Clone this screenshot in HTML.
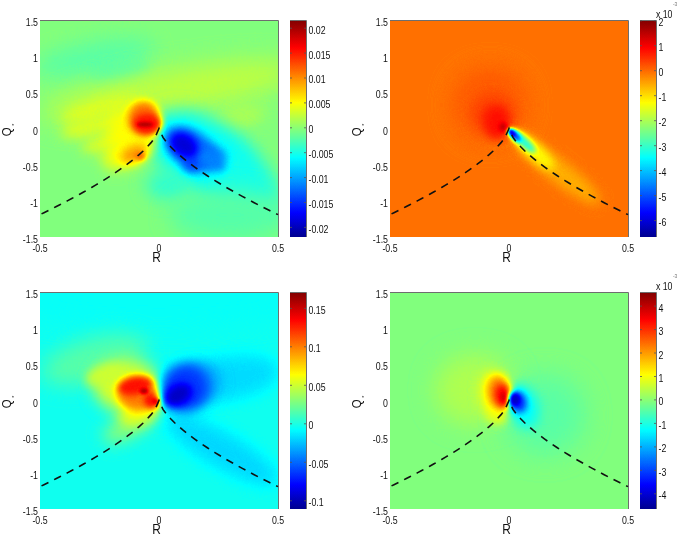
<!DOCTYPE html><html><head><meta charset="utf-8"><style>html,body{margin:0;padding:0;background:#fff;}body{width:679px;height:536px;overflow:hidden;font-family:"Liberation Sans",sans-serif;}svg{display:block;filter:blur(0.45px);}</style></head><body><svg width="679" height="536" viewBox="0 0 679 536"><defs>
<clipPath id="clip"><rect x="0" y="0" width="238" height="217"/></clipPath>
<filter id="jet" color-interpolation-filters="sRGB" x="0" y="0" width="1" height="1"><feComponentTransfer><feFuncR type="table" tableValues="0.0000 0.0000 0.0000 0.0000 0.0000 0.0000 0.0000 0.0000 0.0000 0.0000 0.0000 0.0000 0.0000 0.0000 0.0000 0.0000 0.0000 0.0000 0.0000 0.0000 0.0000 0.0000 0.0000 0.0000 0.0625 0.1250 0.1875 0.2500 0.3125 0.3750 0.4375 0.5000 0.5625 0.6250 0.6875 0.7500 0.8125 0.8750 0.9375 1.0000 1.0000 1.0000 1.0000 1.0000 1.0000 1.0000 1.0000 1.0000 1.0000 1.0000 1.0000 1.0000 1.0000 1.0000 1.0000 1.0000 0.9375 0.8750 0.8125 0.7500 0.6875 0.6250 0.5625 0.5000"/><feFuncG type="table" tableValues="0.0000 0.0000 0.0000 0.0000 0.0000 0.0000 0.0000 0.0000 0.0625 0.1250 0.1875 0.2500 0.3125 0.3750 0.4375 0.5000 0.5625 0.6250 0.6875 0.7500 0.8125 0.8750 0.9375 1.0000 1.0000 1.0000 1.0000 1.0000 1.0000 1.0000 1.0000 1.0000 1.0000 1.0000 1.0000 1.0000 1.0000 1.0000 1.0000 1.0000 0.9375 0.8750 0.8125 0.7500 0.6875 0.6250 0.5625 0.5000 0.4375 0.3750 0.3125 0.2500 0.1875 0.1250 0.0625 0.0000 0.0000 0.0000 0.0000 0.0000 0.0000 0.0000 0.0000 0.0000"/><feFuncB type="table" tableValues="0.5625 0.6250 0.6875 0.7500 0.8125 0.8750 0.9375 1.0000 1.0000 1.0000 1.0000 1.0000 1.0000 1.0000 1.0000 1.0000 1.0000 1.0000 1.0000 1.0000 1.0000 1.0000 1.0000 1.0000 0.9375 0.8750 0.8125 0.7500 0.6875 0.6250 0.5625 0.5000 0.4375 0.3750 0.3125 0.2500 0.1875 0.1250 0.0625 0.0000 0.0000 0.0000 0.0000 0.0000 0.0000 0.0000 0.0000 0.0000 0.0000 0.0000 0.0000 0.0000 0.0000 0.0000 0.0000 0.0000 0.0000 0.0000 0.0000 0.0000 0.0000 0.0000 0.0000 0.0000"/></feComponentTransfer></filter>
<linearGradient id="cbg" x1="0" y1="0" x2="0" y2="1"><stop offset="0" stop-color="#fff"/><stop offset="1" stop-color="#000"/></linearGradient>
<filter id="b15" color-interpolation-filters="sRGB" x="-100%" y="-100%" width="300%" height="300%"><feGaussianBlur stdDeviation="1.5"/></filter>
<filter id="b20" color-interpolation-filters="sRGB" x="-100%" y="-100%" width="300%" height="300%"><feGaussianBlur stdDeviation="2"/></filter>
<filter id="b25" color-interpolation-filters="sRGB" x="-100%" y="-100%" width="300%" height="300%"><feGaussianBlur stdDeviation="2.5"/></filter>
<filter id="b30" color-interpolation-filters="sRGB" x="-100%" y="-100%" width="300%" height="300%"><feGaussianBlur stdDeviation="3"/></filter>
<filter id="b35" color-interpolation-filters="sRGB" x="-100%" y="-100%" width="300%" height="300%"><feGaussianBlur stdDeviation="3.5"/></filter>
<filter id="b40" color-interpolation-filters="sRGB" x="-100%" y="-100%" width="300%" height="300%"><feGaussianBlur stdDeviation="4"/></filter>
<filter id="b50" color-interpolation-filters="sRGB" x="-100%" y="-100%" width="300%" height="300%"><feGaussianBlur stdDeviation="5"/></filter>
<filter id="b60" color-interpolation-filters="sRGB" x="-100%" y="-100%" width="300%" height="300%"><feGaussianBlur stdDeviation="6"/></filter>
<filter id="b70" color-interpolation-filters="sRGB" x="-100%" y="-100%" width="300%" height="300%"><feGaussianBlur stdDeviation="7"/></filter>
<filter id="b80" color-interpolation-filters="sRGB" x="-100%" y="-100%" width="300%" height="300%"><feGaussianBlur stdDeviation="8"/></filter>
<filter id="b90" color-interpolation-filters="sRGB" x="-100%" y="-100%" width="300%" height="300%"><feGaussianBlur stdDeviation="9"/></filter>
<filter id="b100" color-interpolation-filters="sRGB" x="-100%" y="-100%" width="300%" height="300%"><feGaussianBlur stdDeviation="10"/></filter>
<filter id="b120" color-interpolation-filters="sRGB" x="-100%" y="-100%" width="300%" height="300%"><feGaussianBlur stdDeviation="12"/></filter>
</defs>
<g transform="translate(40 20)" clip-path="url(#clip)">
<g filter="url(#jet)">
<rect x="0" y="0" width="238" height="217" fill="#7e7e7e"/>
<ellipse cx="55" cy="38" rx="60" ry="15" transform="rotate(-10 55 38)" fill="#737373" filter="url(#b100)"/>
<ellipse cx="80" cy="52" rx="30" ry="8" transform="rotate(-10 80 52)" fill="#707070" filter="url(#b60)"/>
<ellipse cx="130" cy="72" rx="130" ry="22" transform="rotate(-10 130 72)" fill="#8e8e8e" filter="url(#b120)"/>
<ellipse cx="192" cy="100" rx="35" ry="10" transform="rotate(-15 192 100)" fill="#8b8b8b" filter="url(#b80)"/>
<ellipse cx="165" cy="135" rx="62" ry="36" transform="rotate(30 165 135)" fill="#5e5e5e" filter="url(#b90)"/>
<ellipse cx="128" cy="165" rx="22" ry="15" transform="rotate(0 128 165)" fill="#6a6a6a" filter="url(#b80)"/>
<ellipse cx="205" cy="162" rx="40" ry="22" transform="rotate(30 205 162)" fill="#636363" filter="url(#b100)"/>
<ellipse cx="190" cy="195" rx="60" ry="25" transform="rotate(0 190 195)" fill="#737373" filter="url(#b100)"/>
<ellipse cx="60" cy="88" rx="40" ry="8" transform="rotate(-15 60 88)" fill="#969696" filter="url(#b60)"/>
<ellipse cx="55" cy="105" rx="35" ry="10" transform="rotate(-15 55 105)" fill="#959595" filter="url(#b60)"/>
<ellipse cx="70" cy="120" rx="30" ry="8" transform="rotate(-20 70 120)" fill="#969696" filter="url(#b60)"/>
<ellipse cx="88" cy="130" rx="28" ry="16" transform="rotate(-30 88 130)" fill="#9e9e9e" filter="url(#b70)"/>
<ellipse cx="92" cy="110" rx="24" ry="22" transform="rotate(0 92 110)" fill="#9e9e9e" filter="url(#b70)"/>
<ellipse cx="175" cy="133" rx="14" ry="7" transform="rotate(25 175 133)" fill="#454545" filter="url(#b40)"/>
<ellipse cx="104" cy="98" rx="16" ry="17" transform="rotate(0 104 98)" fill="#c4c4c4" filter="url(#b40)"/>
<ellipse cx="107" cy="104" rx="14" ry="10" transform="rotate(0 107 104)" fill="#dbdbdb" filter="url(#b30)"/>
<ellipse cx="105" cy="104.5" rx="8" ry="2.5" transform="rotate(0 105 104.5)" fill="#f2f2f2" filter="url(#b15)"/>
<ellipse cx="94" cy="134" rx="14" ry="8" transform="rotate(-25 94 134)" fill="#b8b8b8" filter="url(#b40)"/>
<ellipse cx="100" cy="136" rx="5" ry="4" transform="rotate(0 100 136)" fill="#c4c4c4" filter="url(#b20)"/>
<ellipse cx="151" cy="129" rx="30" ry="18" transform="rotate(35 151 129)" fill="#363636" filter="url(#b50)"/>
<ellipse cx="152" cy="144" rx="9" ry="8" transform="rotate(0 152 144)" fill="#2e2e2e" filter="url(#b40)"/>
<ellipse cx="172" cy="140" rx="16" ry="9" transform="rotate(35 172 140)" fill="#3d3d3d" filter="url(#b40)"/>
<ellipse cx="144" cy="125" rx="15" ry="11" transform="rotate(35 144 125)" fill="#121212" filter="url(#b40)"/>
</g></g>
<path d="M40 20.5H278.5V237" stroke="#6e6e6e" stroke-width="1" fill="none"/>
<path d="M40.00 214.62 L43.97 212.69 L47.93 210.75 L51.90 208.78 L55.87 206.78 L59.83 204.76 L63.80 202.71 L67.77 200.64 L71.73 198.53 L75.70 196.39 L79.67 194.22 L83.63 192.01 L87.60 189.76 L91.57 187.47 L95.53 185.14 L99.50 182.75 L103.47 180.31 L107.43 177.81 L111.40 175.25 L115.37 172.62 L119.33 169.90 L123.30 167.09 L127.27 164.18 L131.23 161.14 L135.20 157.95 L139.17 154.58 L143.13 150.98 L147.10 147.05 L151.07 142.66 L155.03 137.42 L159.00 128.50 L162.97 137.42 L166.93 142.66 L170.90 147.05 L174.87 150.98 L178.83 154.58 L182.80 157.95 L186.77 161.14 L190.73 164.18 L194.70 167.09 L198.67 169.90 L202.63 172.62 L206.60 175.25 L210.57 177.81 L214.53 180.31 L218.50 182.75 L222.47 185.14 L226.43 187.47 L230.40 189.76 L234.37 192.01 L238.33 194.22 L242.30 196.39 L246.27 198.53 L250.23 200.64 L254.20 202.71 L258.17 204.76 L262.13 206.78 L266.10 208.78 L270.07 210.75 L274.03 212.69 L278.00 214.62" stroke="#111" stroke-width="1.6" fill="none" stroke-dasharray="7.7 6.35" stroke-dashoffset="-1.7"/>
<rect x="290" y="20" width="16" height="217" fill="url(#cbg)" filter="url(#jet)"/>
<path d="M290 20.5H306.5V237" stroke="#6e6e6e" stroke-width="1" fill="none"/>
<g font-family="Liberation Sans, sans-serif" font-size="10" fill="#111">
<text transform="translate(38.00 26.08) scale(0.880 1)" text-anchor="end">1.5</text>
<text transform="translate(38.00 62.25) scale(0.880 1)" text-anchor="end">1</text>
<text transform="translate(38.00 98.41) scale(0.880 1)" text-anchor="end">0.5</text>
<text transform="translate(38.00 134.58) scale(0.880 1)" text-anchor="end">0</text>
<text transform="translate(38.00 170.75) scale(0.880 1)" text-anchor="end">-0.5</text>
<text transform="translate(38.00 206.91) scale(0.880 1)" text-anchor="end">-1</text>
<text transform="translate(38.00 243.08) scale(0.880 1)" text-anchor="end">-1.5</text>
<text transform="translate(40.00 251.78) scale(0.880 1)" text-anchor="middle">-0.5</text>
<text transform="translate(159.00 251.78) scale(0.880 1)" text-anchor="middle">0</text>
<text transform="translate(278.00 251.78) scale(0.880 1)" text-anchor="middle">0.5</text>
<text transform="translate(308.45 33.63) scale(0.880 1)">0.02</text>
<path d="M290 28.2h2M306 28.2h-2" stroke="#555" stroke-width="0.8"/>
<text transform="translate(308.45 58.54) scale(0.880 1)">0.015</text>
<path d="M290 53.1h2M306 53.1h-2" stroke="#555" stroke-width="0.8"/>
<text transform="translate(308.45 83.45) scale(0.880 1)">0.01</text>
<path d="M290 78.0h2M306 78.0h-2" stroke="#555" stroke-width="0.8"/>
<text transform="translate(308.45 108.36) scale(0.880 1)">0.005</text>
<path d="M290 102.9h2M306 102.9h-2" stroke="#555" stroke-width="0.8"/>
<text transform="translate(308.45 133.27) scale(0.880 1)">0</text>
<path d="M290 127.8h2M306 127.8h-2" stroke="#555" stroke-width="0.8"/>
<text transform="translate(308.45 158.18) scale(0.880 1)">-0.005</text>
<path d="M290 152.7h2M306 152.7h-2" stroke="#555" stroke-width="0.8"/>
<text transform="translate(308.45 183.09) scale(0.880 1)">-0.01</text>
<path d="M290 177.6h2M306 177.6h-2" stroke="#555" stroke-width="0.8"/>
<text transform="translate(308.45 208.00) scale(0.880 1)">-0.015</text>
<path d="M290 202.5h2M306 202.5h-2" stroke="#555" stroke-width="0.8"/>
<text transform="translate(308.45 232.91) scale(0.880 1)">-0.02</text>
<path d="M290 227.4h2M306 227.4h-2" stroke="#555" stroke-width="0.8"/>
<text transform="translate(156.50 262.00) scale(0.82 1)" font-size="14.5" text-anchor="middle">R</text>
<text transform="translate(11.00 136.30) rotate(-90) scale(0.88 1)" font-size="13">Q<tspan font-size="6" dx="2" dy="4.6">*</tspan></text>
</g>
<g transform="translate(390 20)" clip-path="url(#clip)">
<g filter="url(#jet)">
<rect x="0" y="0" width="238" height="217" fill="#c2c2c2"/>
<ellipse cx="100" cy="85" rx="35" ry="35" transform="rotate(0 100 85)" fill="#c9c9c9" filter="url(#b120)"/>
<ellipse cx="104" cy="96" rx="18" ry="17" transform="rotate(0 104 96)" fill="#d4d4d4" filter="url(#b80)"/>
<ellipse cx="107" cy="103" rx="12" ry="16" transform="rotate(0 107 103)" fill="#dbdbdb" filter="url(#b50)"/>
<ellipse cx="113" cy="107" rx="4" ry="4.5" transform="rotate(0 113 107)" fill="#ededed" filter="url(#b20)"/>
<ellipse cx="170" cy="152" rx="50" ry="11" transform="rotate(38 170 152)" fill="#b2b2b2" filter="url(#b60)"/>
<ellipse cx="143" cy="130" rx="28" ry="8" transform="rotate(42 143 130)" fill="#9e9e9e" filter="url(#b40)"/>
<ellipse cx="134" cy="122" rx="15" ry="4.5" transform="rotate(43 134 122)" fill="#666666" filter="url(#b25)"/>
<ellipse cx="125" cy="115.5" rx="8" ry="3.5" transform="rotate(48 125 115.5)" fill="#292929" filter="url(#b20)"/>
<ellipse cx="122" cy="113" rx="4.5" ry="2.5" transform="rotate(50 122 113)" fill="#121212" filter="url(#b15)"/>
</g></g>
<path d="M390 20.5H628.5V237" stroke="#6e6e6e" stroke-width="1" fill="none"/>
<path d="M390.00 214.62 L393.97 212.69 L397.93 210.75 L401.90 208.78 L405.87 206.78 L409.83 204.76 L413.80 202.71 L417.77 200.64 L421.73 198.53 L425.70 196.39 L429.67 194.22 L433.63 192.01 L437.60 189.76 L441.57 187.47 L445.53 185.14 L449.50 182.75 L453.47 180.31 L457.43 177.81 L461.40 175.25 L465.37 172.62 L469.33 169.90 L473.30 167.09 L477.27 164.18 L481.23 161.14 L485.20 157.95 L489.17 154.58 L493.13 150.98 L497.10 147.05 L501.07 142.66 L505.03 137.42 L509.00 128.50 L512.97 137.42 L516.93 142.66 L520.90 147.05 L524.87 150.98 L528.83 154.58 L532.80 157.95 L536.77 161.14 L540.73 164.18 L544.70 167.09 L548.67 169.90 L552.63 172.62 L556.60 175.25 L560.57 177.81 L564.53 180.31 L568.50 182.75 L572.47 185.14 L576.43 187.47 L580.40 189.76 L584.37 192.01 L588.33 194.22 L592.30 196.39 L596.27 198.53 L600.23 200.64 L604.20 202.71 L608.17 204.76 L612.13 206.78 L616.10 208.78 L620.07 210.75 L624.03 212.69 L628.00 214.62" stroke="#111" stroke-width="1.6" fill="none" stroke-dasharray="7.7 6.35" stroke-dashoffset="-1.7"/>
<rect x="640" y="20" width="16" height="217" fill="url(#cbg)" filter="url(#jet)"/>
<path d="M640 20.5H656.5V237" stroke="#6e6e6e" stroke-width="1" fill="none"/>
<g font-family="Liberation Sans, sans-serif" font-size="10" fill="#111">
<text transform="translate(388.00 26.08) scale(0.880 1)" text-anchor="end">1.5</text>
<text transform="translate(388.00 62.25) scale(0.880 1)" text-anchor="end">1</text>
<text transform="translate(388.00 98.41) scale(0.880 1)" text-anchor="end">0.5</text>
<text transform="translate(388.00 134.58) scale(0.880 1)" text-anchor="end">0</text>
<text transform="translate(388.00 170.75) scale(0.880 1)" text-anchor="end">-0.5</text>
<text transform="translate(388.00 206.91) scale(0.880 1)" text-anchor="end">-1</text>
<text transform="translate(388.00 243.08) scale(0.880 1)" text-anchor="end">-1.5</text>
<text transform="translate(390.00 251.78) scale(0.880 1)" text-anchor="middle">-0.5</text>
<text transform="translate(509.00 251.78) scale(0.880 1)" text-anchor="middle">0</text>
<text transform="translate(628.00 251.78) scale(0.880 1)" text-anchor="middle">0.5</text>
<text transform="translate(658.45 26.23) scale(0.880 1)">2</text>
<path d="M640 20.8h2M656 20.8h-2" stroke="#555" stroke-width="0.8"/>
<text transform="translate(658.45 51.21) scale(0.880 1)">1</text>
<path d="M640 45.7h2M656 45.7h-2" stroke="#555" stroke-width="0.8"/>
<text transform="translate(658.45 76.19) scale(0.880 1)">0</text>
<path d="M640 70.7h2M656 70.7h-2" stroke="#555" stroke-width="0.8"/>
<text transform="translate(658.45 101.17) scale(0.880 1)">-1</text>
<path d="M640 95.7h2M656 95.7h-2" stroke="#555" stroke-width="0.8"/>
<text transform="translate(658.45 126.15) scale(0.880 1)">-2</text>
<path d="M640 120.7h2M656 120.7h-2" stroke="#555" stroke-width="0.8"/>
<text transform="translate(658.45 151.13) scale(0.880 1)">-3</text>
<path d="M640 145.7h2M656 145.7h-2" stroke="#555" stroke-width="0.8"/>
<text transform="translate(658.45 176.11) scale(0.880 1)">-4</text>
<path d="M640 170.6h2M656 170.6h-2" stroke="#555" stroke-width="0.8"/>
<text transform="translate(658.45 201.09) scale(0.880 1)">-5</text>
<path d="M640 195.6h2M656 195.6h-2" stroke="#555" stroke-width="0.8"/>
<text transform="translate(658.45 226.07) scale(0.880 1)">-6</text>
<path d="M640 220.6h2M656 220.6h-2" stroke="#555" stroke-width="0.8"/>
<text transform="translate(655.90 18.18) scale(0.880 1)">x 10</text>
<text transform="translate(672.90 5.77) scale(0.900 1)" font-size="5.5" fill="#777">-3</text>
<text transform="translate(506.50 262.00) scale(0.82 1)" font-size="14.5" text-anchor="middle">R</text>
<text transform="translate(361.00 136.30) rotate(-90) scale(0.88 1)" font-size="13">Q<tspan font-size="6" dx="2" dy="4.6">*</tspan></text>
</g>
<g transform="translate(40 292)" clip-path="url(#clip)">
<g filter="url(#jet)">
<rect x="0" y="0" width="238" height="217" fill="#616161"/>
<ellipse cx="119" cy="8" rx="160" ry="28" transform="rotate(0 119 8)" fill="#5f5f5f" filter="url(#b100)"/>
<ellipse cx="55" cy="68" rx="55" ry="22" transform="rotate(-15 55 68)" fill="#737373" filter="url(#b100)"/>
<ellipse cx="90" cy="133" rx="30" ry="12" transform="rotate(-30 90 133)" fill="#808080" filter="url(#b80)"/>
<ellipse cx="87" cy="94" rx="33" ry="26" transform="rotate(0 87 94)" fill="#959595" filter="url(#b80)"/>
<ellipse cx="65" cy="83" rx="20" ry="10" transform="rotate(-15 65 83)" fill="#919191" filter="url(#b50)"/>
<ellipse cx="100" cy="120" rx="22" ry="12" transform="rotate(-20 100 120)" fill="#999999" filter="url(#b60)"/>
<ellipse cx="190" cy="86" rx="50" ry="22" transform="rotate(-10 190 86)" fill="#545454" filter="url(#b80)"/>
<ellipse cx="158" cy="90" rx="22" ry="20" transform="rotate(0 158 90)" fill="#454545" filter="url(#b70)"/>
<ellipse cx="182" cy="158" rx="65" ry="18" transform="rotate(30 182 158)" fill="#535353" filter="url(#b80)"/>
<ellipse cx="99" cy="102" rx="22" ry="17" transform="rotate(0 99 102)" fill="#bfbfbf" filter="url(#b40)"/>
<ellipse cx="95" cy="94" rx="17" ry="9" transform="rotate(-10 95 94)" fill="#dbdbdb" filter="url(#b30)"/>
<ellipse cx="112" cy="108" rx="8" ry="8" transform="rotate(0 112 108)" fill="#dedede" filter="url(#b30)"/>
<ellipse cx="104" cy="99" rx="4" ry="3" transform="rotate(0 104 99)" fill="#f2f2f2" filter="url(#b15)"/>
<ellipse cx="116" cy="109" rx="3" ry="3" transform="rotate(0 116 109)" fill="#f2f2f2" filter="url(#b15)"/>
<ellipse cx="145" cy="96" rx="24" ry="24" transform="rotate(0 145 96)" fill="#2b2b2b" filter="url(#b60)"/>
<ellipse cx="138" cy="103" rx="15" ry="10" transform="rotate(-30 138 103)" fill="#0d0d0d" filter="url(#b40)"/>
</g></g>
<path d="M40 292.5H278.5V509" stroke="#6e6e6e" stroke-width="1" fill="none"/>
<path d="M40.00 486.62 L43.97 484.69 L47.93 482.75 L51.90 480.78 L55.87 478.78 L59.83 476.76 L63.80 474.71 L67.77 472.64 L71.73 470.53 L75.70 468.39 L79.67 466.22 L83.63 464.01 L87.60 461.76 L91.57 459.47 L95.53 457.14 L99.50 454.75 L103.47 452.31 L107.43 449.81 L111.40 447.25 L115.37 444.62 L119.33 441.90 L123.30 439.09 L127.27 436.18 L131.23 433.14 L135.20 429.95 L139.17 426.58 L143.13 422.98 L147.10 419.05 L151.07 414.66 L155.03 409.42 L159.00 400.50 L162.97 409.42 L166.93 414.66 L170.90 419.05 L174.87 422.98 L178.83 426.58 L182.80 429.95 L186.77 433.14 L190.73 436.18 L194.70 439.09 L198.67 441.90 L202.63 444.62 L206.60 447.25 L210.57 449.81 L214.53 452.31 L218.50 454.75 L222.47 457.14 L226.43 459.47 L230.40 461.76 L234.37 464.01 L238.33 466.22 L242.30 468.39 L246.27 470.53 L250.23 472.64 L254.20 474.71 L258.17 476.76 L262.13 478.78 L266.10 480.78 L270.07 482.75 L274.03 484.69 L278.00 486.62" stroke="#111" stroke-width="1.6" fill="none" stroke-dasharray="7.7 6.35" stroke-dashoffset="-1.7"/>
<rect x="290" y="292" width="16" height="217" fill="url(#cbg)" filter="url(#jet)"/>
<path d="M290 292.5H306.5V509" stroke="#6e6e6e" stroke-width="1" fill="none"/>
<g font-family="Liberation Sans, sans-serif" font-size="10" fill="#111">
<text transform="translate(38.00 298.08) scale(0.880 1)" text-anchor="end">1.5</text>
<text transform="translate(38.00 334.25) scale(0.880 1)" text-anchor="end">1</text>
<text transform="translate(38.00 370.41) scale(0.880 1)" text-anchor="end">0.5</text>
<text transform="translate(38.00 406.58) scale(0.880 1)" text-anchor="end">0</text>
<text transform="translate(38.00 442.75) scale(0.880 1)" text-anchor="end">-0.5</text>
<text transform="translate(38.00 478.91) scale(0.880 1)" text-anchor="end">-1</text>
<text transform="translate(38.00 515.08) scale(0.880 1)" text-anchor="end">-1.5</text>
<text transform="translate(40.00 523.78) scale(0.880 1)" text-anchor="middle">-0.5</text>
<text transform="translate(159.00 523.78) scale(0.880 1)" text-anchor="middle">0</text>
<text transform="translate(278.00 523.78) scale(0.880 1)" text-anchor="middle">0.5</text>
<text transform="translate(308.45 313.83) scale(0.880 1)">0.15</text>
<path d="M290 308.4h2M306 308.4h-2" stroke="#555" stroke-width="0.8"/>
<text transform="translate(308.45 352.31) scale(0.880 1)">0.1</text>
<path d="M290 346.8h2M306 346.8h-2" stroke="#555" stroke-width="0.8"/>
<text transform="translate(308.45 390.79) scale(0.880 1)">0.05</text>
<path d="M290 385.3h2M306 385.3h-2" stroke="#555" stroke-width="0.8"/>
<text transform="translate(308.45 429.27) scale(0.880 1)">0</text>
<path d="M290 423.8h2M306 423.8h-2" stroke="#555" stroke-width="0.8"/>
<text transform="translate(308.45 467.75) scale(0.880 1)">-0.05</text>
<path d="M290 462.3h2M306 462.3h-2" stroke="#555" stroke-width="0.8"/>
<text transform="translate(308.45 506.23) scale(0.880 1)">-0.1</text>
<path d="M290 500.8h2M306 500.8h-2" stroke="#555" stroke-width="0.8"/>
<text transform="translate(156.50 534.00) scale(0.82 1)" font-size="14.5" text-anchor="middle">R</text>
<text transform="translate(11.00 408.30) rotate(-90) scale(0.88 1)" font-size="13">Q<tspan font-size="6" dx="2" dy="4.6">*</tspan></text>
</g>
<g transform="translate(390 292)" clip-path="url(#clip)">
<g filter="url(#jet)">
<rect x="0" y="0" width="238" height="217" fill="#7e7e7e"/>
<ellipse cx="85" cy="98" rx="40" ry="35" transform="rotate(0 85 98)" fill="#8a8a8a" filter="url(#b120)"/>
<ellipse cx="155" cy="123" rx="40" ry="40" transform="rotate(0 155 123)" fill="#747474" filter="url(#b120)"/>
<ellipse cx="106" cy="104" rx="15" ry="25" transform="rotate(-10 106 104)" fill="#9e9e9e" filter="url(#b60)"/>
<ellipse cx="107" cy="121" rx="9" ry="10" transform="rotate(-30 107 121)" fill="#999999" filter="url(#b50)"/>
<ellipse cx="133" cy="114" rx="15" ry="23" transform="rotate(-20 133 114)" fill="#5e5e5e" filter="url(#b60)"/>
<ellipse cx="109.5" cy="101" rx="11" ry="17" transform="rotate(-10 109.5 101)" fill="#c2c2c2" filter="url(#b40)"/>
<ellipse cx="113" cy="104" rx="7.5" ry="11" transform="rotate(-10 113 104)" fill="#e0e0e0" filter="url(#b30)"/>
<ellipse cx="115.5" cy="106" rx="3.5" ry="5" transform="rotate(-10 115.5 106)" fill="#f7f7f7" filter="url(#b20)"/>
<ellipse cx="128" cy="110" rx="8.5" ry="11" transform="rotate(-20 128 110)" fill="#262626" filter="url(#b35)"/>
<ellipse cx="125" cy="107.5" rx="5" ry="6.5" transform="rotate(0 125 107.5)" fill="#0d0d0d" filter="url(#b20)"/>
</g></g>
<path d="M390 292.5H628.5V509" stroke="#6e6e6e" stroke-width="1" fill="none"/>
<path d="M390.00 486.62 L393.97 484.69 L397.93 482.75 L401.90 480.78 L405.87 478.78 L409.83 476.76 L413.80 474.71 L417.77 472.64 L421.73 470.53 L425.70 468.39 L429.67 466.22 L433.63 464.01 L437.60 461.76 L441.57 459.47 L445.53 457.14 L449.50 454.75 L453.47 452.31 L457.43 449.81 L461.40 447.25 L465.37 444.62 L469.33 441.90 L473.30 439.09 L477.27 436.18 L481.23 433.14 L485.20 429.95 L489.17 426.58 L493.13 422.98 L497.10 419.05 L501.07 414.66 L505.03 409.42 L509.00 400.50 L512.97 409.42 L516.93 414.66 L520.90 419.05 L524.87 422.98 L528.83 426.58 L532.80 429.95 L536.77 433.14 L540.73 436.18 L544.70 439.09 L548.67 441.90 L552.63 444.62 L556.60 447.25 L560.57 449.81 L564.53 452.31 L568.50 454.75 L572.47 457.14 L576.43 459.47 L580.40 461.76 L584.37 464.01 L588.33 466.22 L592.30 468.39 L596.27 470.53 L600.23 472.64 L604.20 474.71 L608.17 476.76 L612.13 478.78 L616.10 480.78 L620.07 482.75 L624.03 484.69 L628.00 486.62" stroke="#111" stroke-width="1.6" fill="none" stroke-dasharray="7.7 6.35" stroke-dashoffset="-1.7"/>
<rect x="640" y="292" width="16" height="217" fill="url(#cbg)" filter="url(#jet)"/>
<path d="M640 292.5H656.5V509" stroke="#6e6e6e" stroke-width="1" fill="none"/>
<g font-family="Liberation Sans, sans-serif" font-size="10" fill="#111">
<text transform="translate(388.00 298.08) scale(0.880 1)" text-anchor="end">1.5</text>
<text transform="translate(388.00 334.25) scale(0.880 1)" text-anchor="end">1</text>
<text transform="translate(388.00 370.41) scale(0.880 1)" text-anchor="end">0.5</text>
<text transform="translate(388.00 406.58) scale(0.880 1)" text-anchor="end">0</text>
<text transform="translate(388.00 442.75) scale(0.880 1)" text-anchor="end">-0.5</text>
<text transform="translate(388.00 478.91) scale(0.880 1)" text-anchor="end">-1</text>
<text transform="translate(388.00 515.08) scale(0.880 1)" text-anchor="end">-1.5</text>
<text transform="translate(390.00 523.78) scale(0.880 1)" text-anchor="middle">-0.5</text>
<text transform="translate(509.00 523.78) scale(0.880 1)" text-anchor="middle">0</text>
<text transform="translate(628.00 523.78) scale(0.880 1)" text-anchor="middle">0.5</text>
<text transform="translate(658.45 311.58) scale(0.880 1)">4</text>
<path d="M640 306.1h2M656 306.1h-2" stroke="#555" stroke-width="0.8"/>
<text transform="translate(658.45 335.04) scale(0.880 1)">3</text>
<path d="M640 329.6h2M656 329.6h-2" stroke="#555" stroke-width="0.8"/>
<text transform="translate(658.45 358.50) scale(0.880 1)">2</text>
<path d="M640 353.0h2M656 353.0h-2" stroke="#555" stroke-width="0.8"/>
<text transform="translate(658.45 381.96) scale(0.880 1)">1</text>
<path d="M640 376.5h2M656 376.5h-2" stroke="#555" stroke-width="0.8"/>
<text transform="translate(658.45 405.42) scale(0.880 1)">0</text>
<path d="M640 399.9h2M656 399.9h-2" stroke="#555" stroke-width="0.8"/>
<text transform="translate(658.45 428.88) scale(0.880 1)">-1</text>
<path d="M640 423.4h2M656 423.4h-2" stroke="#555" stroke-width="0.8"/>
<text transform="translate(658.45 452.34) scale(0.880 1)">-2</text>
<path d="M640 446.9h2M656 446.9h-2" stroke="#555" stroke-width="0.8"/>
<text transform="translate(658.45 475.80) scale(0.880 1)">-3</text>
<path d="M640 470.3h2M656 470.3h-2" stroke="#555" stroke-width="0.8"/>
<text transform="translate(658.45 499.26) scale(0.880 1)">-4</text>
<path d="M640 493.8h2M656 493.8h-2" stroke="#555" stroke-width="0.8"/>
<text transform="translate(655.90 290.18) scale(0.880 1)">x 10</text>
<text transform="translate(672.90 277.77) scale(0.900 1)" font-size="5.5" fill="#777">-3</text>
<text transform="translate(506.50 534.00) scale(0.82 1)" font-size="14.5" text-anchor="middle">R</text>
<text transform="translate(361.00 408.30) rotate(-90) scale(0.88 1)" font-size="13">Q<tspan font-size="6" dx="2" dy="4.6">*</tspan></text>
</g></svg></body></html>
